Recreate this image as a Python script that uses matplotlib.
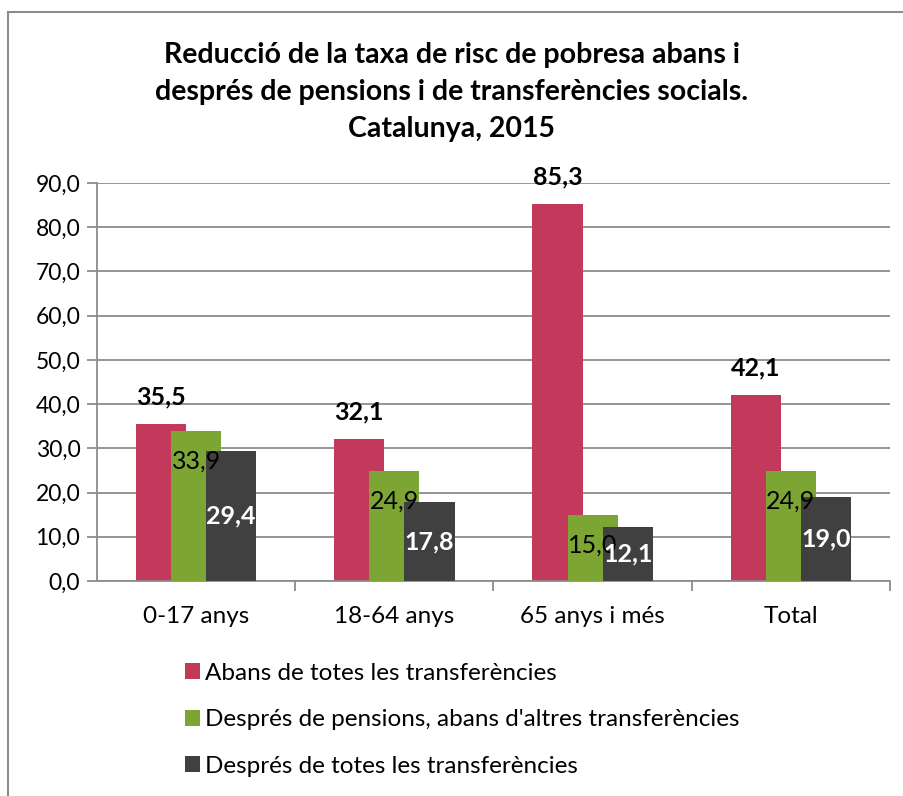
import numpy as np
import matplotlib
matplotlib.use('Agg')
from matplotlib import pyplot as plt
from matplotlib.patches import Rectangle

plt.rcParams['font.family'] = ['Lato', 'DejaVu Sans']

# 数据
categories = ['0-17 anys', '18-64 anys', '65 anys i més', 'Total']
abans = [35.5, 32.1, 85.3, 42.1]
pensions = [33.9, 24.9, 15.0, 24.9]
despres = [29.4, 17.8, 12.1, 19.0]
series_names = ['Abans de totes les transferències',
                "Després de pensions, abans d'altres transferències",
                'Després de totes les transferències']
yticks = np.arange(0, 91, 10)

colors = ['#C3395B', '#7DA534', '#404040']
grid_col = '#8C8C8C'

fig = plt.figure(figsize=(9.04, 7.96), dpi=100)
fig.patch.set_facecolor('white')

# 外框
fig.patches.append(Rectangle((8 / 904, -0.1), 1.2, 1.1 - 12 / 796, transform=fig.transFigure,
                             fill=False, edgecolor=grid_col, linewidth=1.5))

ax = fig.add_axes([97 / 904, 1 - 581 / 796, (890 - 97) / 904, (581 - 183) / 796])

x = np.arange(len(categories))
w = 0.253
step = 0.177
b1 = ax.bar(x - step, abans, w, color=colors[0], zorder=2, label=series_names[0])
b2 = ax.bar(x, pensions, w, color=colors[1], zorder=3, label=series_names[1])
b3 = ax.bar(x + step, despres, w, color=colors[2], zorder=4, label=series_names[2])

fmt = lambda v: ('%.1f' % v).replace('.', ',')
px = 90 / 398  # 每像素数值

for xi, v in zip(x - step, abans):
    ax.text(xi, v + 27 * px, fmt(v), ha='center', va='center', fontsize=18,
            fontweight='bold', color='black', zorder=6)
for xi, v in zip(x, pensions):
    ax.text(xi, v - 30 * px, fmt(v), ha='center', va='center', fontsize=18,
            color='black', zorder=6)
for xi, v in zip(x + step, despres):
    ax.text(xi, v / 2, fmt(v), ha='center', va='center', fontsize=18,
            fontweight='bold', color='white', zorder=7)

ax.set_xlim(-0.5, 3.5)
ax.set_ylim(0, 90)
ax.set_yticks(yticks)
ax.set_yticklabels([fmt(t) for t in yticks], fontsize=16.5)
ax.yaxis.grid(True, color=grid_col, linewidth=1.3, zorder=0)
ax.set_axisbelow(True)

ax.set_xticks(x)
ax.set_xticklabels(categories, fontsize=17.5)
ax.set_xticks(np.arange(0.5, 4, 1), minor=True)
ax.tick_params(axis='x', which='major', length=0, pad=18)
ax.tick_params(axis='x', which='minor', length=7, color=grid_col, width=1.3)
ax.tick_params(axis='y', length=7, color=grid_col, width=1.3, pad=5)

for s in ['top', 'right']:
    ax.spines[s].set_visible(False)
for s in ['left', 'bottom']:
    ax.spines[s].set_color(grid_col)
    ax.spines[s].set_linewidth(1.3)

fig.text(0.5, 1 - 92 / 796,
         'Reducció de la taxa de risc de pobresa abans i\n'
         'després de pensions i de transferències socials.\n'
         'Catalunya, 2015',
         ha='center', va='center', fontsize=20.5, fontweight='bold', linespacing=1.53)

leg = fig.legend(handles=[b1, b2, b3], loc='upper left',
                 bbox_to_anchor=(175 / 904, 1 - 653 / 796), frameon=False,
                 fontsize=17.5, handlelength=0.62, handleheight=0.62, handletextpad=0.22,
                 labelspacing=1.05, borderaxespad=0)

fig.savefig('out.png', dpi=100, facecolor='white')
